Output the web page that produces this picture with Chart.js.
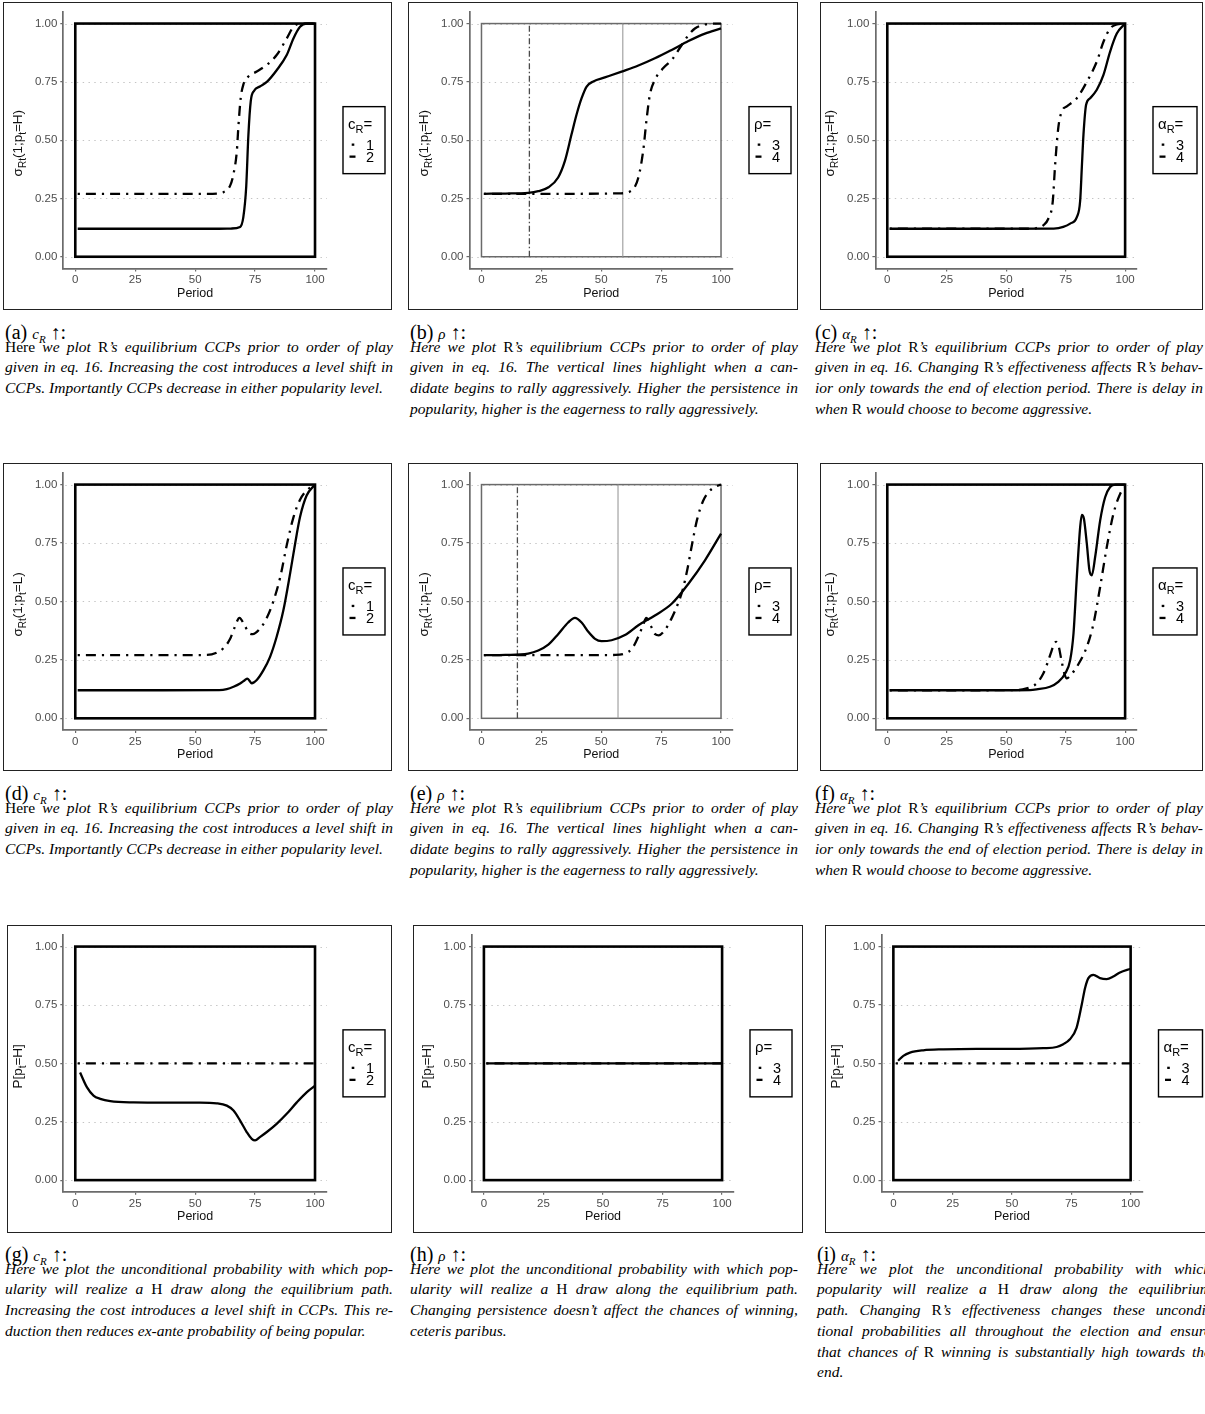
<!DOCTYPE html>
<html>
<head>
<meta charset="utf-8">
<script src="https://cdn.jsdelivr.net/npm/chart.js@4.4.1/dist/chart.umd.min.js"></script>
<style>
  html, body { margin:0; padding:0; background:#fff; width:1205px; height:1414px; overflow:hidden; }
  .frame { position:absolute; border:1.4px solid #222; box-sizing:border-box; pointer-events:none; }
  canvas.panel { position:absolute; }
  .cap-label { position:absolute; font-family:'Liberation Serif', serif; font-size:20px; line-height:24px; white-space:nowrap; }
  .cap-label .m { font-size:15px; font-style:italic; }
  .cap-label sub { font-size:11px; }
  .cap-body { position:absolute; font-family:'Liberation Serif', serif; font-style:italic; font-size:15.5px; line-height:20.8px; }
  .cap-body .ln { display:flex; justify-content:space-between; white-space:nowrap; }
  .cap-body .ln.last { justify-content:flex-start; gap:4px; }
  up { font-style:normal; }
</style>
</head>
<body>
<div id="root"></div>
<script>
// axis ticks shared by every panel
const xTicks = [0, 25, 50, 75, 100];
const yTicks = [0, 0.25, 0.5, 0.75, 1];

// (a) c_R: 1 = dot-dash, 2 = solid ; sigma(1; p=H)
const aDotX = [1, 20, 40, 55, 59, 61.8, 64.6, 66, 67.4, 68, 69, 70.1, 72.2, 75.7, 79.9, 84, 88.2, 91, 93.5, 96, 100];
const aDotY = [0.27, 0.27, 0.27, 0.27, 0.271, 0.277, 0.305, 0.355, 0.454, 0.553, 0.68, 0.738, 0.773, 0.794, 0.823, 0.865, 0.936, 0.986, 0.999, 1.0, 1.0];
const aSolidX = [1, 20, 40, 60, 65, 68.75, 70.1, 71.3, 72.2, 73.2, 74.6, 77, 79.9, 84, 88.2, 91, 93.75, 96.5, 100];
const aSolidY = [0.12, 0.12, 0.12, 0.12, 0.121, 0.128, 0.17, 0.30, 0.52, 0.667, 0.712, 0.73, 0.75, 0.80, 0.865, 0.936, 0.986, 1.0, 1.0];

// (b) rho: 3 = dot-dash, 4 = solid
const bDotX = [1, 20, 40, 58, 62.7, 65.5, 67.5, 69, 70.3, 72.4, 75.9, 79.4, 83.6, 86.4, 89.1, 93.3, 96, 100];
const bDotY = [0.27, 0.27, 0.27, 0.272, 0.284, 0.34, 0.454, 0.596, 0.695, 0.759, 0.809, 0.844, 0.908, 0.95, 0.979, 0.996, 1.0, 1.0];
const bSolidX = [1, 10, 19.5, 23.7, 28, 32, 34.8, 37.6, 39.7, 41.8, 43.9, 46.7, 51.5, 58.5, 65.5, 72.4, 79.4, 86.4, 93.3, 100];
const bSolidY = [0.27, 0.271, 0.274, 0.281, 0.298, 0.34, 0.41, 0.525, 0.61, 0.68, 0.73, 0.752, 0.769, 0.794, 0.82, 0.851, 0.887, 0.925, 0.957, 0.979];
const bVlines = [20, 59];

// (c) alpha_R: 3 = dot-dash, 4 = solid
const cDotX = [1, 30, 60, 62.8, 65.6, 67.7, 69.6, 70.5, 71.9, 73.4, 75.5, 79.7, 84, 88.1, 90.9, 93.7, 96.5, 100];
const cDotY = [0.12, 0.12, 0.12, 0.123, 0.135, 0.163, 0.24, 0.383, 0.553, 0.624, 0.645, 0.68, 0.752, 0.837, 0.922, 0.979, 0.996, 1.0];
const cSolidX = [1, 40, 70, 74, 76.9, 79.7, 81.1, 81.8, 82.5, 83.6, 85.3, 88.1, 90.9, 93.7, 96.5, 100];
const cSolidY = [0.12, 0.12, 0.121, 0.128, 0.142, 0.17, 0.24, 0.383, 0.525, 0.652, 0.68, 0.716, 0.78, 0.88, 0.957, 1.0];

// (d) c_R ; sigma(1; p=L)
const dDotX = [1, 30, 55, 59, 61.8, 64.6, 66.5, 68.5, 70.5, 72.5, 74, 77, 79.9, 82.6, 85.4, 88.2, 91, 93.75, 96.5, 100];
const dDotY = [0.27, 0.27, 0.271, 0.281, 0.30, 0.34, 0.39, 0.43, 0.40, 0.365, 0.36, 0.383, 0.43, 0.50, 0.60, 0.74, 0.86, 0.935, 0.975, 1.0];
const dSolidX = [1, 30, 60, 63.2, 66, 68.75, 70.8, 71.8, 73.6, 75.7, 78.5, 81.25, 84, 86.8, 89.6, 91.7, 93.75, 96.5, 100];
const dSolidY = [0.12, 0.12, 0.121, 0.125, 0.135, 0.149, 0.164, 0.17, 0.15, 0.164, 0.206, 0.263, 0.349, 0.462, 0.619, 0.747, 0.861, 0.953, 1.0];

// (e) rho ; sigma(1; p=L)
const eDotX = [1, 20, 40, 56, 60, 63, 65.5, 67.5, 68.8, 70.5, 72.5, 74, 76, 79, 82, 84, 86, 88, 90, 92.5, 95, 97.5, 100];
const eDotY = [0.27, 0.27, 0.27, 0.271, 0.278, 0.30, 0.35, 0.40, 0.43, 0.40, 0.36, 0.355, 0.37, 0.42, 0.49, 0.55, 0.64, 0.75, 0.85, 0.93, 0.97, 0.99, 1.0];
const eSolidX = [1, 10, 19.5, 23.7, 27.9, 32, 36.2, 39, 41.8, 44.6, 47.4, 50.1, 54.3, 59.9, 65.5, 72.4, 79.4, 86.4, 93.3, 100];
const eSolidY = [0.27, 0.271, 0.277, 0.29, 0.315, 0.36, 0.41, 0.43, 0.41, 0.37, 0.34, 0.33, 0.334, 0.356, 0.398, 0.44, 0.49, 0.576, 0.676, 0.79];
const eVlines = [15, 57];

// (f) alpha_R ; sigma(1; p=L)
const fDotX = [1, 30, 55, 58.6, 62.8, 65.6, 67.3, 68.8, 70, 71, 72, 73.2, 74.5, 75.5, 77.5, 79.7, 83.9, 86.7, 89.5, 92.3, 95.1, 97.9, 100];
const fDotY = [0.12, 0.12, 0.121, 0.128, 0.149, 0.192, 0.235, 0.28, 0.315, 0.327, 0.31, 0.25, 0.19, 0.171, 0.19, 0.22, 0.306, 0.405, 0.562, 0.733, 0.875, 0.96, 0.99];
const fSolidX = [1, 40, 60, 62.8, 68.4, 71.9, 74.8, 76.9, 78.3, 79.7, 81.1, 81.8, 82.7, 83.9, 85, 86, 87.4, 89.5, 91.6, 93.7, 96, 100];
const fSolidY = [0.12, 0.12, 0.121, 0.124, 0.135, 0.156, 0.192, 0.249, 0.363, 0.605, 0.818, 0.87, 0.853, 0.747, 0.633, 0.612, 0.69, 0.846, 0.946, 0.99, 1.0, 1.0];

// (g) c_R ; P[p=H]
const gDotX = [1, 100];
const gDotY = [0.5, 0.5];
const gSolidX = [2, 4.9, 7.6, 10.4, 14.6, 24.3, 38.2, 52, 59, 63.2, 66, 68.75, 71.5, 73.6, 75, 77, 79.9, 84, 88.2, 92.4, 96.5, 100];
const gSolidY = [0.461, 0.397, 0.362, 0.348, 0.338, 0.333, 0.332, 0.332, 0.329, 0.319, 0.298, 0.255, 0.206, 0.177, 0.17, 0.184, 0.206, 0.241, 0.284, 0.333, 0.376, 0.404];

// (h) rho ; P[p=H]
const hDotX = [1, 100];
const hDotY = [0.5, 0.5];
const hSolidX = [1, 100];
const hSolidY = [0.5, 0.5];

// (i) alpha_R ; P[p=H]
const iDotX = [1, 100];
const iDotY = [0.5, 0.5];
const iSolidX = [2, 4.2, 7, 12.6, 21, 35, 49, 63.2, 68.8, 71.6, 74.4, 77.2, 79.4, 80.8, 82.2, 84.3, 87.1, 89.9, 92.7, 95.5, 100];
const iSolidY = [0.511, 0.532, 0.546, 0.556, 0.56, 0.562, 0.562, 0.565, 0.57, 0.582, 0.603, 0.652, 0.752, 0.823, 0.865, 0.879, 0.865, 0.861, 0.872, 0.889, 0.905];

const SANS = "'Liberation Sans', Arial, sans-serif";
const AXIS = '#6b6b6b';
const DOTDASH = [2.2, 6, 10, 6];

const sigmaH = [['σ', 0], ['Rt', 1], ['(1;p', 0], ['t', 1], ['=H)', 0]];
const sigmaL = [['σ', 0], ['Rt', 1], ['(1;p', 0], ['t', 1], ['=L)', 0]];
const probH = [['P[p', 0], ['t', 1], ['=H]', 0]];
const cR = [['c', 0], ['R', 1], ['=', 0]];
const rho = [['ρ=', 0]];
const alphaR = [['α', 0], ['R', 1], ['=', 0]];

const rows = [{ frameTop: 2, top: 10, bottom: 268.4 }, { frameTop: 463, top: 472.3, bottom: 730 }, { frameTop: 925, top: 933.3, bottom: 1191.8 }];

const panels = [
  { id: 'a', row: 0, fl: 3, fw: 389, pl: 63.3, pr: 327, yt: sigmaH, lt: cR, lw: 42, labels: ['1', '2'], dot: [aDotX, aDotY], solid: [aSolidX, aSolidY], thin: false },
  { id: 'b', row: 0, fl: 408, fw: 390, pl: 469.5, pr: 733, yt: sigmaH, lt: rho, lw: 42, labels: ['3', '4'], dot: [bDotX, bDotY], solid: [bSolidX, bSolidY], thin: true, vlines: bVlines },
  { id: 'c', row: 0, fl: 820, fw: 383, pl: 875.4, pr: 1137, yt: sigmaH, lt: alphaR, lw: 44, labels: ['3', '4'], dot: [cDotX, cDotY], solid: [cSolidX, cSolidY], thin: false },
  { id: 'd', row: 1, fl: 3, fw: 389, pl: 63.3, pr: 327, yt: sigmaL, lt: cR, lw: 42, labels: ['1', '2'], dot: [dDotX, dDotY], solid: [dSolidX, dSolidY], thin: false },
  { id: 'e', row: 1, fl: 408, fw: 390, pl: 469.5, pr: 733, yt: sigmaL, lt: rho, lw: 42, labels: ['3', '4'], dot: [eDotX, eDotY], solid: [eSolidX, eSolidY], thin: true, vlines: eVlines },
  { id: 'f', row: 1, fl: 820, fw: 383, pl: 875.4, pr: 1137, yt: sigmaL, lt: alphaR, lw: 44, labels: ['3', '4'], dot: [fDotX, fDotY], solid: [fSolidX, fSolidY], thin: false },
  { id: 'g', row: 2, fl: 7, fw: 385, pl: 63.3, pr: 327, yt: probH, lt: cR, lw: 42, labels: ['1', '2'], dot: [gDotX, gDotY], solid: [gSolidX, gSolidY], thin: false },
  { id: 'h', row: 2, fl: 413, fw: 390, pl: 472, pr: 734, yt: probH, lt: rho, lw: 42, labels: ['3', '4'], dot: [hDotX, hDotY], solid: [hSolidX, hSolidY], thin: false },
  { id: 'i', row: 2, fl: 825, fw: 400, pl: 881.5, pr: 1142.5, yt: probH, lt: alphaR, lw: 44, labels: ['3', '4'], dot: [iDotX, iDotY], solid: [iSolidX, iSolidY], thin: false }
];

const captions = [
  { x: 5, row: 0, label: '(a) <span class="m">c<sub>R</sub></span> ↑:', lines: [
    '<up>Here</up> we plot <up>R</up>’s equilibrium CCPs prior to order of play',
    'given in eq. 16. Increasing the cost introduces a level shift in',
    'CCPs. Importantly CCPs decrease in either popularity level.'] },
  { x: 410, row: 0, label: '(b) <span class="m">ρ</span> ↑:', lines: [
    'Here we plot <up>R</up>’s equilibrium CCPs prior to order of play',
    'given in eq. 16. The vertical lines highlight when a can-',
    'didate begins to rally aggressively. Higher the persistence in',
    'popularity, higher is the eagerness to rally aggressively.'] },
  { x: 815, row: 0, label: '(c) <span class="m">α<sub>R</sub></span> ↑:', lines: [
    'Here we plot <up>R</up>’s equilibrium CCPs prior to order of play',
    'given in eq. 16. Changing <up>R</up>’s effectiveness affects <up>R</up>’s behav-',
    'ior only towards the end of election period. There is delay in',
    'when <up>R</up> would choose to become aggressive.'] },
  { x: 5, row: 1, label: '(d) <span class="m">c<sub>R</sub></span> ↑:', lines: [
    '<up>Here</up> we plot <up>R</up>’s equilibrium CCPs prior to order of play',
    'given in eq. 16. Increasing the cost introduces a level shift in',
    'CCPs. Importantly CCPs decrease in either popularity level.'] },
  { x: 410, row: 1, label: '(e) <span class="m">ρ</span> ↑:', lines: [
    'Here we plot <up>R</up>’s equilibrium CCPs prior to order of play',
    'given in eq. 16. The vertical lines highlight when a can-',
    'didate begins to rally aggressively. Higher the persistence in',
    'popularity, higher is the eagerness to rally aggressively.'] },
  { x: 815, row: 1, label: '(f) <span class="m">α<sub>R</sub></span> ↑:', lines: [
    'Here we plot <up>R</up>’s equilibrium CCPs prior to order of play',
    'given in eq. 16. Changing <up>R</up>’s effectiveness affects <up>R</up>’s behav-',
    'ior only towards the end of election period. There is delay in',
    'when <up>R</up> would choose to become aggressive.'] },
  { x: 5, row: 2, label: '(g) <span class="m">c<sub>R</sub></span> ↑:', lines: [
    'Here we plot the unconditional probability with which pop-',
    'ularity will realize a <up>H</up> draw along the equilibrium path.',
    'Increasing the cost introduces a level shift in CCPs. This re-',
    'duction then reduces ex-ante probability of being popular.'] },
  { x: 410, row: 2, label: '(h) <span class="m">ρ</span> ↑:', lines: [
    'Here we plot the unconditional probability with which pop-',
    'ularity will realize a <up>H</up> draw along the equilibrium path.',
    'Changing persistence doesn’t affect the chances of winning,',
    'ceteris paribus.'] },
  { x: 817, row: 2, w: 394, label: '(i) <span class="m">α<sub>R</sub></span> ↑:', lines: [
    'Here we plot the unconditional probability with which',
    'popularity will realize a <up>H</up> draw along the equilibrium',
    'path. Changing <up>R</up>’s effectiveness changes these uncondi-',
    'tional probabilities all throughout the election and ensure',
    'that chances of <up>R</up> winning is substantially high towards the',
    'end.'] }
];

function pts(xs, ys) { return xs.map((x, i) => ({ x: x, y: ys[i] })); }

function drawPieces(ctx, pieces, x, y, size, center) {
  const fonts = pieces.map(p => (p[1] ? Math.round(size * 0.72) : size) + 'px ' + SANS);
  const widths = pieces.map((p, i) => { ctx.font = fonts[i]; return ctx.measureText(p[0]).width; });
  const total = widths.reduce((s, w) => s + w, 0);
  let cx = center ? x - total / 2 : x;
  ctx.textAlign = 'left';
  ctx.textBaseline = 'alphabetic';
  pieces.forEach((p, i) => {
    ctx.font = fonts[i];
    ctx.fillText(p[0], cx, y + (p[1] ? size * 0.28 : 0));
    cx += widths[i];
  });
  return total;
}

const decor = {
  id: 'decor',
  beforeDatasetsDraw(chart, args, o) {
    const { ctx, chartArea: ca, scales: { x, y } } = chart;
    ctx.save();
    // dotted horizontal grid
    ctx.strokeStyle = '#c4c4c4';
    ctx.lineWidth = 1.1;
    ctx.setLineDash([1.4, 4.4]);
    yTicks.forEach(v => {
      const py = Math.round(y.getPixelForValue(v)) + 0.5;
      ctx.beginPath(); ctx.moveTo(ca.left + 2, py); ctx.lineTo(ca.right, py); ctx.stroke();
    });
    ctx.setLineDash([]);
    // box from (0,0) to (100,1)
    ctx.strokeStyle = o.thin ? '#6a6a6a' : '#000';
    ctx.lineWidth = o.thin ? 1.5 : 2.6;
    const x0 = x.getPixelForValue(0), x1 = x.getPixelForValue(100);
    const y0 = y.getPixelForValue(0), y1 = y.getPixelForValue(1);
    ctx.strokeRect(x0, y1, x1 - x0, y0 - y1);
    ctx.restore();
  },
  afterDraw(chart, args, o) {
    const { ctx, chartArea: ca } = chart;
    ctx.save();
    ctx.fillStyle = '#111';
    // x title
    ctx.font = '12.5px ' + SANS;
    ctx.textAlign = 'center';
    ctx.textBaseline = 'middle';
    ctx.fillText('Period', (ca.left + ca.right) / 2, ca.bottom + 25);
    // y title, rotated
    const midY = (ca.top + ca.bottom) / 2;
    ctx.save();
    ctx.translate(ca.left - 46, midY + 3);
    ctx.rotate(-Math.PI / 2);
    drawPieces(ctx, o.yTitle, 0, 4.5, 13.5, true);
    ctx.restore();
    // legend box
    const lx = ca.right + 16, ly = midY - 33.5, lw = o.legendW, lh = 67;
    ctx.strokeStyle = '#000';
    ctx.lineWidth = 1.4;
    ctx.strokeRect(lx, ly, lw, lh);
    ctx.fillStyle = '#000';
    drawPieces(ctx, o.legendTitle, lx + 5, ly + 22, 15, false);
    ctx.font = '14.5px ' + SANS;
    ctx.textAlign = 'left';
    ctx.textBaseline = 'middle';
    o.labels.forEach((lab, i) => {
      const ey = ly + 38 + i * 12;
      ctx.fillText(lab, lx + 23, ey + 1);
      ctx.lineWidth = 2.3;
      ctx.beginPath();
      if (i === 0) { ctx.moveTo(lx + 8.7, ey); ctx.lineTo(lx + 11.3, ey); }
      else { ctx.moveTo(lx + 6.5, ey); ctx.lineTo(lx + 12.5, ey); }
      ctx.stroke();
    });
    ctx.restore();
  }
};

const root = document.getElementById('root');

panels.forEach(p => {
  const r = rows[p.row];
  const fh = 308;
  const cv = document.createElement('canvas');
  cv.className = 'panel';
  cv.width = p.fw; cv.height = fh;
  cv.style.left = p.fl + 'px'; cv.style.top = r.frameTop + 'px';
  cv.style.width = p.fw + 'px'; cv.style.height = fh + 'px';
  root.appendChild(cv);
  const fr = document.createElement('div');
  fr.className = 'frame';
  fr.style.left = p.fl + 'px'; fr.style.top = r.frameTop + 'px';
  fr.style.width = p.fw + 'px'; fr.style.height = fh + 'px';
  root.appendChild(fr);

  const datasets = [];
  (p.vlines || []).forEach((v, k) => {
    datasets.push({
      data: pts([v, v], [0, 1]), showLine: true, pointRadius: 0,
      borderColor: k === 0 ? '#4a4a4a' : '#9a9a9a', borderWidth: k === 0 ? 1.3 : 1.1,
      borderDash: k === 0 ? [6, 2.5, 1.5, 2.5] : [], order: 3
    });
  });
  datasets.push({
    label: p.labels[0], data: pts(p.dot[0], p.dot[1]), showLine: true, pointRadius: 0,
    borderColor: '#000', borderWidth: 2.3, borderDash: DOTDASH, borderCapStyle: 'butt',
    cubicInterpolationMode: 'monotone', order: 2
  });
  datasets.push({
    label: p.labels[1], data: pts(p.solid[0], p.solid[1]), showLine: true, pointRadius: 0,
    borderColor: '#000', borderWidth: 2.3, cubicInterpolationMode: 'monotone', order: 1
  });

  const axisCommon = {
    type: 'linear',
    grid: { display: true, drawOnChartArea: false, drawTicks: true, tickLength: 3, color: AXIS, lineWidth: 1.2 },
    border: { display: true, color: AXIS, width: 1.7 },
  };

  new Chart(cv, {
    type: 'scatter',
    data: { datasets: datasets },
    options: {
      responsive: false, animation: false, devicePixelRatio: 1,
      layout: { padding: { left: 0, top: r.top - r.frameTop, right: p.fl + p.fw - p.pr, bottom: 0 } },
      plugins: {
        legend: { display: false }, tooltip: { enabled: false },
        decor: { thin: p.thin, yTitle: p.yt, legendTitle: p.lt, legendW: p.lw, labels: p.labels }
      },
      scales: {
        x: Object.assign({}, axisCommon, {
          min: -5, max: 105,
          afterBuildTicks: a => { a.ticks = xTicks.map(v => ({ value: v })); },
          afterFit: s => { s.height = r.frameTop + fh - r.bottom; },
          ticks: { color: '#4d4d4d', font: { family: SANS, size: 11.5 }, padding: 2, maxRotation: 0, autoSkip: false }
        }),
        y: Object.assign({}, axisCommon, {
          min: -0.05, max: 1.05,
          afterBuildTicks: a => { a.ticks = yTicks.map(v => ({ value: v })); },
          afterFit: s => { s.width = p.pl - p.fl; },
          ticks: { color: '#4d4d4d', font: { family: SANS, size: 11.5 }, padding: 3, autoSkip: false,
                   callback: v => Number(v).toFixed(2) }
        })
      }
    },
    plugins: [decor]
  });
});

// captions under each panel
const capOffsets = [0, 461, 922];
captions.forEach(c => {
  const off = capOffsets[c.row];
  const lab = document.createElement('div');
  lab.className = 'cap-label';
  lab.style.left = c.x + 'px';
  lab.style.top = (320 + off) + 'px';
  lab.innerHTML = c.label;
  root.appendChild(lab);
  const body = document.createElement('div');
  body.className = 'cap-body';
  body.style.left = c.x + 'px';
  body.style.top = (336.5 + off) + 'px';
  body.style.width = (c.w || 388) + 'px';
  c.lines.forEach((ln, k) => {
    const d = document.createElement('div');
    d.className = 'ln' + (k === c.lines.length - 1 ? ' last' : '');
    d.innerHTML = ln.split(' ').map(w => '<span>' + w + '</span>').join('');
    body.appendChild(d);
  });
  root.appendChild(body);
});
</script>
</body>
</html>
